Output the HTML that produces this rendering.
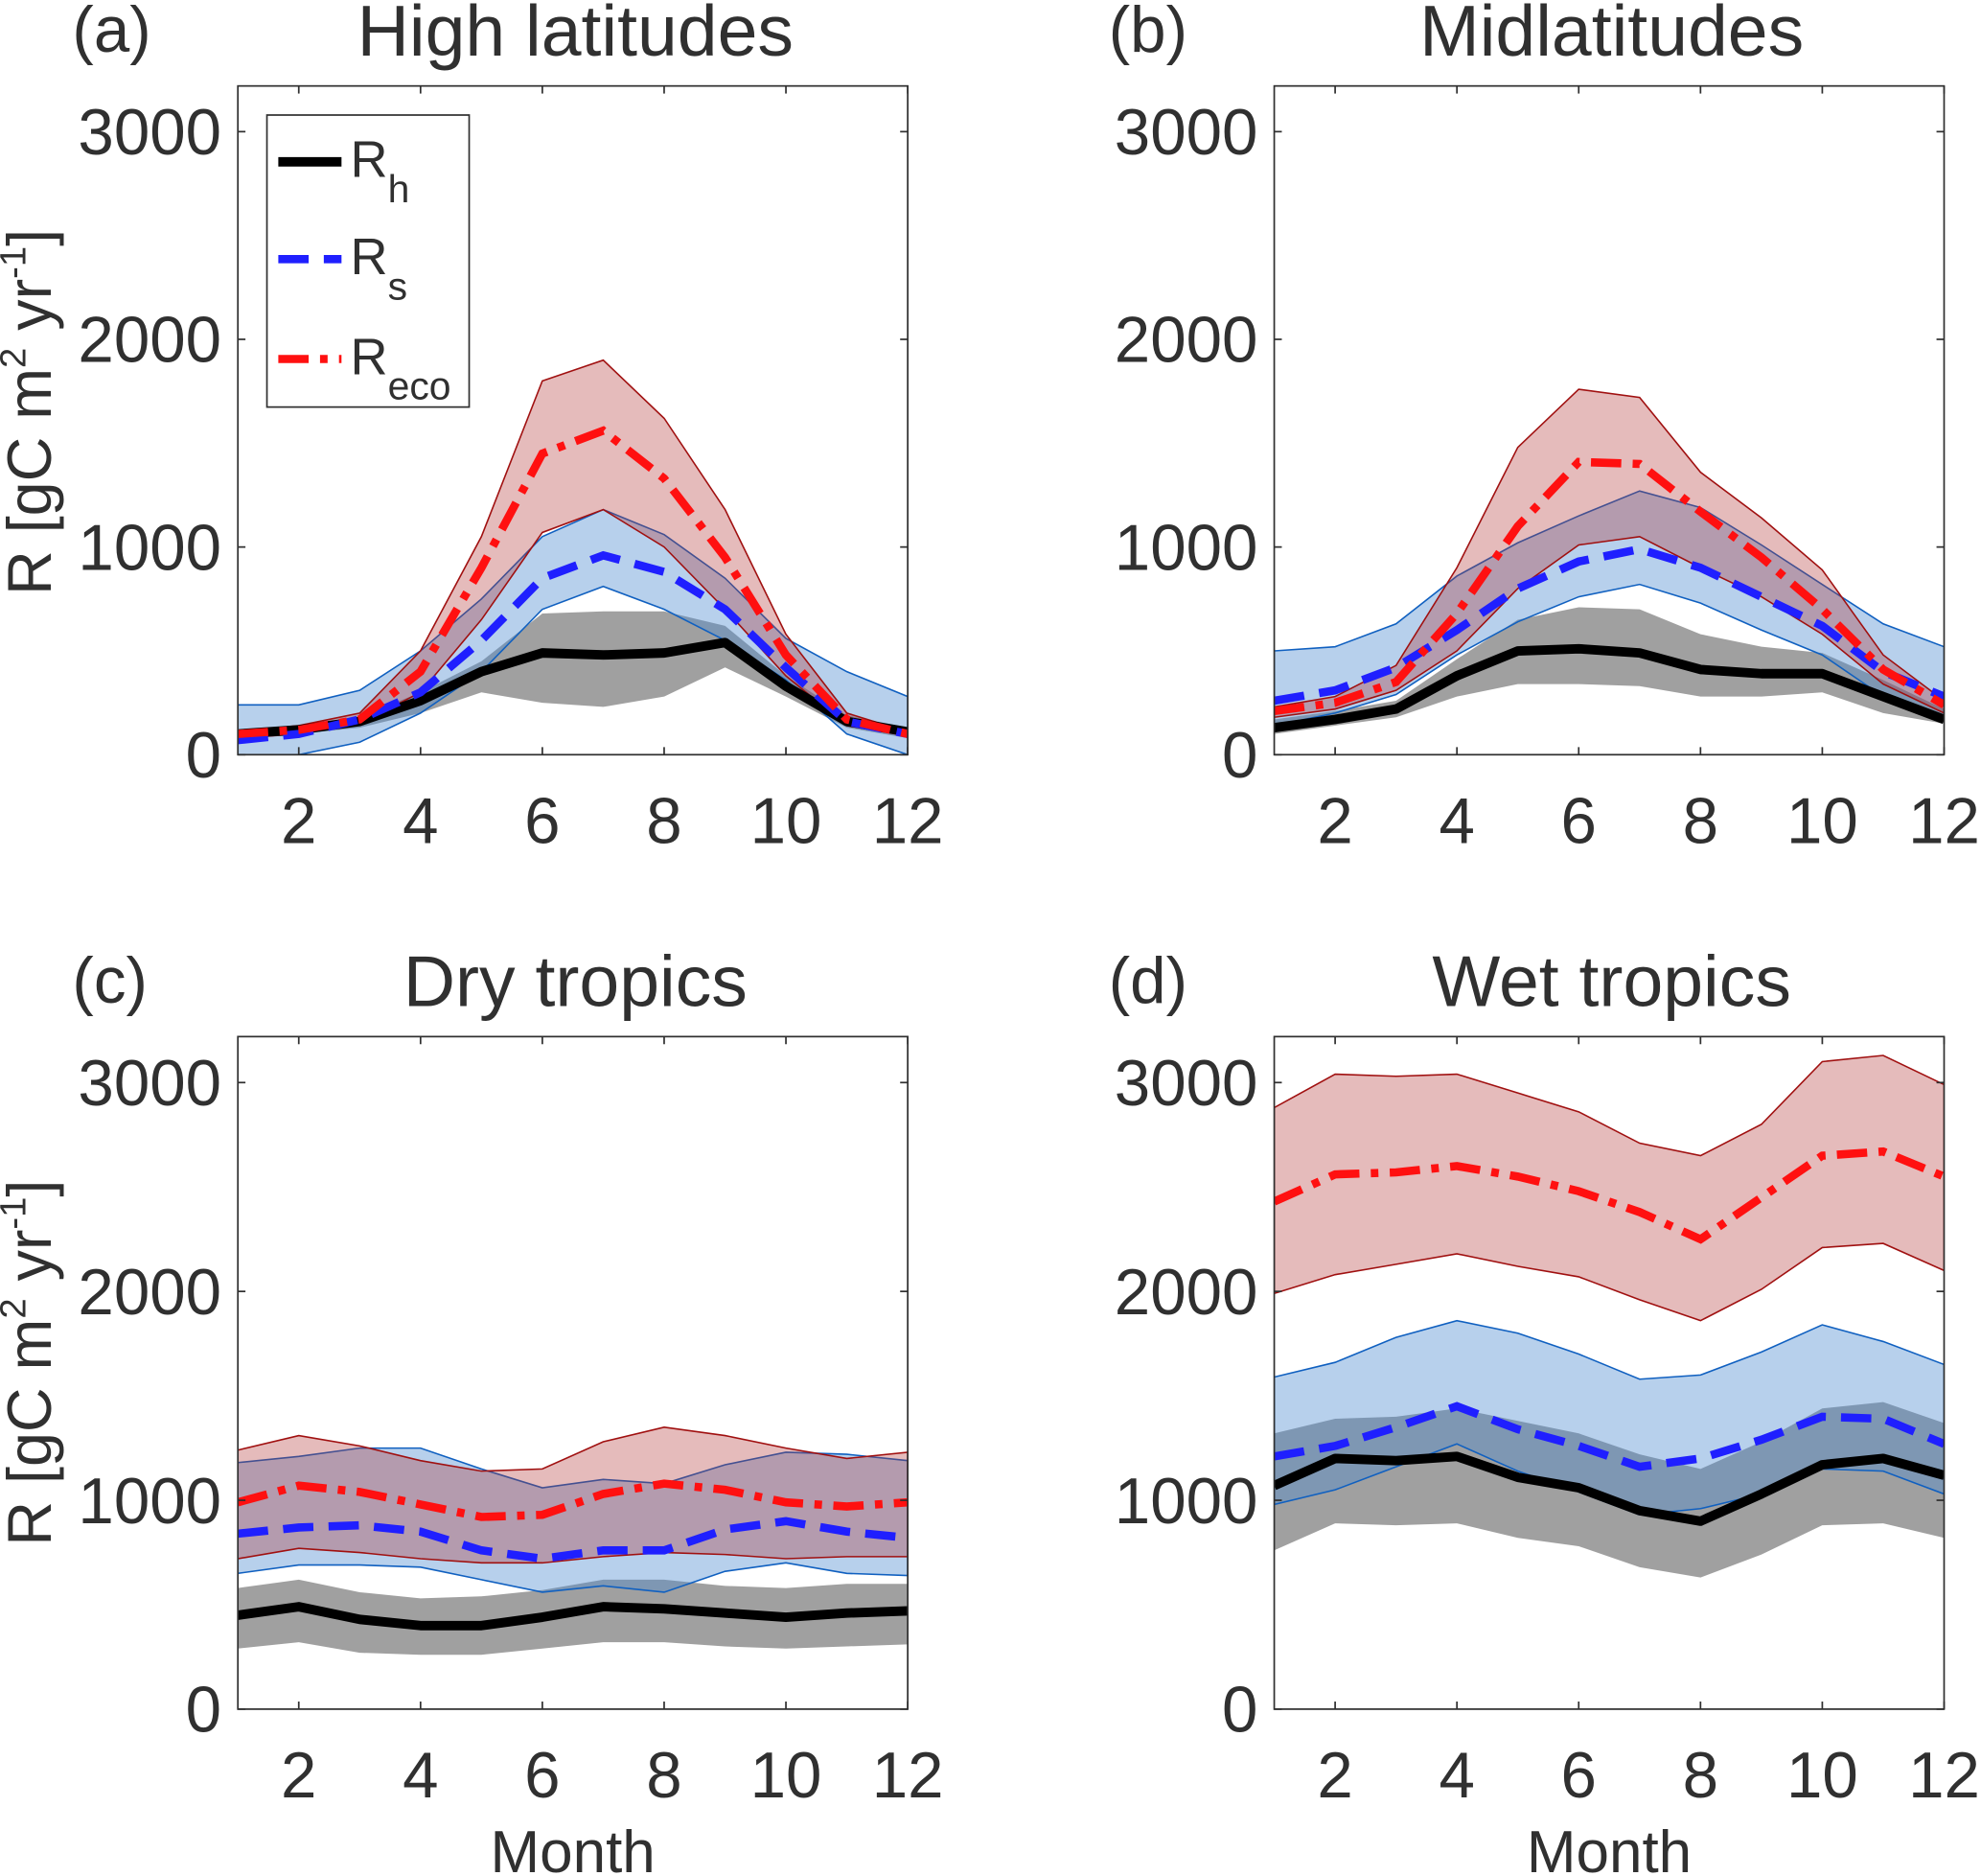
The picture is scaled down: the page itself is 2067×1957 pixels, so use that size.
<!DOCTYPE html>
<html><head><meta charset="utf-8"><style>
html,body{margin:0;padding:0;background:#fff}
svg{display:block}
text{font-family:"Liberation Sans",Arial,sans-serif;fill:#303030}
</style></head><body>
<svg id="fig" width="2067" height="1957" viewBox="0 0 1567 1484" xmlns="http://www.w3.org/2000/svg"></svg>
<script>
const months=[1,2,3,4,5,6,7,8,9,10,11,12];
const xTicks=[2,4,6,8,10,12];
const yTicks=[0,1000,2000,3000];
const titles=["High latitudes","Midlatitudes","Dry tropics","Wet tropics"];
const letters=["(a)","(b)","(c)","(d)"];
// panel a
const aRh=[100,120,160,260,400,490,480,490,540,330,160,110];
const aRhLo=[80,100,130,200,300,250,230,280,420,280,130,80];
const aRhHi=[120,140,180,300,450,680,690,690,620,380,190,130];
const aRs=[70,100,170,300,550,850,960,880,700,420,160,100];
const aRsLo=[0,0,60,200,400,700,810,700,550,360,100,0];
const aRsHi=[240,240,310,500,750,1050,1180,1060,850,560,400,280];
const aReco=[100,120,170,400,900,1450,1560,1330,950,480,170,100];
const aRecoLo=[80,100,150,300,650,1070,1180,1000,700,380,140,90];
const aRecoHi=[110,140,200,500,1050,1800,1900,1620,1180,580,200,110];
// panel b
const bRh=[130,170,220,380,500,510,490,410,390,390,280,170];
const bRhLo=[100,140,180,280,340,340,330,280,280,300,200,150];
const bRhHi=[170,210,260,460,650,710,700,580,520,490,360,220];
const bRs=[260,310,420,600,800,930,990,900,760,620,400,280];
const bRsLo=[140,200,290,480,640,760,820,730,600,480,280,180];
const bRsHi=[500,520,630,860,1020,1150,1270,1190,1010,820,630,520];
const bReco=[210,250,350,680,1100,1410,1400,1170,950,700,410,240];
const bRecoLo=[180,220,310,500,800,1010,1050,900,760,580,340,200];
const bRecoHi=[230,280,430,900,1480,1760,1720,1360,1140,890,480,260];
// panel c
const cRh=[450,490,430,400,400,440,490,480,460,440,460,470];
const cRhLo=[290,320,270,260,260,290,320,320,300,290,300,310];
const cRhHi=[580,620,560,530,540,570,620,620,590,580,600,600];
const cRs=[840,870,880,850,760,720,760,760,860,900,850,820];
const cRsLo=[650,690,690,680,620,560,590,560,660,700,650,640];
const cRsHi=[1180,1210,1250,1250,1150,1060,1100,1080,1170,1230,1220,1190];
const cReco=[990,1070,1040,980,920,930,1030,1080,1050,990,970,990];
const cRecoLo=[720,770,750,720,700,700,730,750,740,720,730,730];
const cRecoHi=[1240,1310,1260,1190,1140,1150,1280,1350,1310,1250,1200,1230];
// panel d
const dRh=[1070,1200,1190,1210,1110,1060,950,900,1030,1170,1200,1120];
const dRhLo=[760,890,880,890,820,780,680,630,740,880,890,820];
const dRhHi=[1320,1390,1400,1440,1380,1320,1220,1150,1280,1440,1470,1370];
const dRs=[1210,1260,1350,1450,1340,1260,1160,1200,1290,1400,1390,1270];
const dRsLo=[980,1050,1160,1270,1140,1040,930,960,1030,1150,1140,1030];
const dRsHi=[1590,1660,1780,1860,1800,1700,1580,1600,1710,1840,1760,1650];
const dReco=[2430,2560,2570,2600,2550,2480,2380,2250,2450,2650,2670,2550];
const dRecoLo=[1990,2080,2130,2180,2120,2070,1960,1860,2010,2210,2230,2100];
const dRecoHi=[2880,3040,3030,3040,2950,2860,2710,2650,2800,3100,3130,2990];

const panels=[
 {x0:188,x1:718,y0:597,top:68,rh:[aRh,aRhLo,aRhHi],rs:[aRs,aRsLo,aRsHi],re:[aReco,aRecoLo,aRecoHi]},
 {x0:1008,x1:1538,y0:597,top:68,rh:[bRh,bRhLo,bRhHi],rs:[bRs,bRsLo,bRsHi],re:[bReco,bRecoLo,bRecoHi]},
 {x0:188,x1:718,y0:1352,top:820,rh:[cRh,cRhLo,cRhHi],rs:[cRs,cRsLo,cRsHi],re:[cReco,cRecoLo,cRecoHi]},
 {x0:1008,x1:1538,y0:1352,top:820,rh:[dRh,dRhLo,dRhHi],rs:[dRs,dRsLo,dRsHi],re:[dReco,dRecoLo,dRecoHi]}
];
const NS="http://www.w3.org/2000/svg";
const svg=document.getElementById('fig');
function el(tag,attrs,parent,txt){const e=document.createElementNS(NS,tag);for(const k in attrs)e.setAttribute(k,attrs[k]);if(txt!==undefined)e.textContent=txt;(parent||svg).appendChild(e);return e;}

panels.forEach((p,i)=>{
 const g=el('g',{});
 
 
 const sx=m=>p.x0+(m-1)*(p.x1-p.x0)/11;
 const sy=v=>p.y0-v*(p.y0-p.top)/3220;
 const line=arr=>arr.map((v,j)=>(j?'L':'M')+sx(months[j]).toFixed(1)+','+sy(v).toFixed(1)).join('');
 const band=(lo,hi)=>line(hi)+lo.slice().reverse().map((v,j)=>'L'+sx(months[11-j]).toFixed(1)+','+sy(v).toFixed(1)).join('')+'Z';
 const cp='clip'+i;
 const cl=el('clipPath',{id:cp},g);el('rect',{x:p.x0,y:p.top,width:p.x1-p.x0,height:p.y0-p.top},cl);
 const pg=el('g',{'clip-path':'url(#'+cp+')'},g);
 let b;
 b=el('path',{d:band(p.rh[1],p.rh[2]),fill:'#808080','fill-opacity':0.75,stroke:'none'},pg);
 
 
 b=el('path',{d:band(p.rs[1],p.rs[2]),fill:'#4a8ad0','fill-opacity':0.4,stroke:'#1060c0','stroke-width':1.2},pg);
 
 
 b=el('path',{d:band(p.re[1],p.re[2]),fill:'#b03030','fill-opacity':0.33,stroke:'#a01010','stroke-width':1.2},pg);
 
 
 b=el('path',{d:line(p.rh[0]),fill:'none',stroke:'#000','stroke-width':7.5,'stroke-linejoin':'round'},pg);
 
 
 b=el('path',{d:line(p.rs[0]),fill:'none',stroke:'#1f1fff','stroke-width':6.5,'stroke-dasharray':'24,12'},pg);
 
 
 b=el('path',{d:line(p.re[0]),fill:'none',stroke:'#ff1010','stroke-width':6.5,'stroke-dasharray':'24,9,6,9'},pg);
 
 
 const bx=el('rect',{x:p.x0,y:p.top,width:p.x1-p.x0,height:p.y0-p.top,fill:'none',stroke:'#303030','stroke-width':1.3},g);
 
 
 xTicks.forEach(t=>{
  el('line',{x1:sx(t),x2:sx(t),y1:p.y0,y2:p.y0-6,stroke:'#303030','stroke-width':1.3},g);
  el('line',{x1:sx(t),x2:sx(t),y1:p.top,y2:p.top+6,stroke:'#303030','stroke-width':1.3},g);
  const tl=el('text',{x:sx(t),y:p.y0+70,'font-size':51,'text-anchor':'middle'},g,String(t));
  
  
 });
 yTicks.forEach(t=>{
  el('line',{x1:p.x0,x2:p.x0+6,y1:sy(t),y2:sy(t),stroke:'#303030','stroke-width':1.3},g);
  el('line',{x1:p.x1,x2:p.x1-6,y1:sy(t),y2:sy(t),stroke:'#303030','stroke-width':1.3},g);
  const tl=el('text',{x:p.x0-13,y:sy(t)+18,'font-size':51,'text-anchor':'end'},g,String(t));
  
  
 });
 const tt=el('text',{x:(p.x0+p.x1)/2+2,y:p.top-24,'font-size':57,'text-anchor':'middle',fill:'#000'},g,titles[i]);
 
 
 const lt=el('text',{x:p.x0-131,y:p.top-27,'font-size':51},g,letters[i]);
 
 
 if(i%2===0){
  const yl=el('text',{transform:'translate(40,'+(p.top+258)+') rotate(-90)','font-size':49,'text-anchor':'middle'},g);
  
  
  el('tspan',{},yl,'R [gC m');
  el('tspan',{'font-size':29,dy:-20},yl,'2');
  el('tspan',{dy:20},yl,' yr');
  el('tspan',{'font-size':29,dy:-20},yl,'-1');
  el('tspan',{dy:20},yl,']');
 }
 if(i>=2){
  const xl=el('text',{x:(p.x0+p.x1)/2,y:1481,'font-size':47,'text-anchor':'middle'},g,'Month');
  
  
 }
});
// legend
const lg=el('g',{});


el('rect',{x:211,y:91,width:160,height:231,fill:'#fff',stroke:'#303030','stroke-width':1.3},lg);
const ents=[['h',{stroke:'#000','stroke-width':7.5}],['s',{stroke:'#1f1fff','stroke-width':6.5,'stroke-dasharray':'24,12'}],['eco',{stroke:'#ff1010','stroke-width':6.5,'stroke-dasharray':'24,9,6,9'}]];
[128,205,284].forEach((yy,k)=>{
 const e=el('g',{},lg);
 
 
 const a=Object.assign({x1:220,x2:270,y1:yy,y2:yy},ents[k][1]);
 el('line',a,e);
 const t=el('text',{x:277,y:yy+12,'font-size':41},e,'R');
 el('tspan',{'font-size':31,dy:20},t,ents[k][0]);
});
</script>
</body></html>
